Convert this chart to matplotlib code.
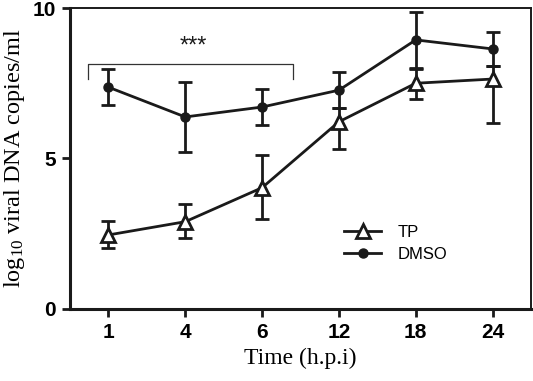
import matplotlib
matplotlib.use("Agg")
import matplotlib.pyplot as plt
from matplotlib.lines import Line2D
import numpy as np

plt.rcParams["mathtext.fontset"] = "custom"
plt.rcParams["mathtext.rm"] = "Liberation Serif"
plt.rcParams["mathtext.it"] = "Liberation Serif:italic"

# Data
time_labels = ["1", "4", "6", "12", "18", "24"]
dmso_mean = [7.37, 6.38, 6.71, 7.27, 8.94, 8.64]
dmso_err = [0.6, 1.15, 0.6, 0.6, 0.93, 0.57]
tp_mean = [2.46, 2.90, 4.03, 6.22, 7.50, 7.64]
tp_err_low = [0.45, 0.53, 1.03, 0.92, 0.52, 1.46]
tp_err_high = [0.47, 0.58, 1.07, 0.46, 0.47, 0.43]
y_ticks = [0, 5, 10]

col = "#1a1a1a"
fig = plt.figure(figsize=(5.33, 3.81), dpi=100)
ax = fig.add_axes([0.1313, 0.189, 0.865, 0.79])

x = np.arange(len(time_labels))

lw = 2.0
ax.errorbar(x, dmso_mean, yerr=dmso_err, color=col, lw=lw, marker="o", ms=6.5,
            mfc=col, mec=col, capsize=4.8, capthick=lw, elinewidth=lw, zorder=3)
ax.errorbar(x, tp_mean, yerr=[tp_err_low, tp_err_high], color=col, lw=lw, marker="^",
            ms=10, mfc="white", mec=col, mew=2.0, capsize=4.8, capthick=lw,
            elinewidth=lw, zorder=4)

# significance bracket
bx0, bx1, by, bdrop = -0.26, 2.4, 8.14, 0.5
ax.plot([bx0, bx0, bx1, bx1], [by - bdrop, by, by, by - bdrop], color="#333333", lw=0.9)
ax.text(1.1, by + 0.2, "***", ha="center", va="bottom", fontsize=17,
        family="Liberation Sans", color=col)

ax.set_xlim(-0.5, 5.5)
ax.set_ylim(0, 10)
ax.set_xticks(x)
ax.set_xticklabels(time_labels)
ax.set_yticks(y_ticks)
for lab in ax.get_xticklabels() + ax.get_yticklabels():
    lab.set_family("Liberation Sans")
    lab.set_fontweight("bold")
    lab.set_fontsize(15)
ax.tick_params(axis="both", direction="out", length=6, width=2, color=col, pad=4)

for s in ["left", "bottom"]:
    ax.spines[s].set_linewidth(2.2)
for s in ["top", "right"]:
    ax.spines[s].set_linewidth(1.4)
for s in ax.spines.values():
    s.set_color(col)

ax.set_xlabel("Time (h.p.i)", family="Liberation Serif", fontsize=17, labelpad=4)
ax.set_ylabel(r"log$_{10}$ viral DNA copies/ml", family="Liberation Serif", fontsize=17.5,
              labelpad=4)

handles = [Line2D([], [], color=col, lw=lw, marker="^", ms=10, mfc="white", mec=col, mew=2.0),
           Line2D([], [], color=col, lw=lw, marker="o", ms=6.5, mfc=col, mec=col)]
ax.legend(handles, ["TP", "DMSO"], loc="center left", bbox_to_anchor=(0.595, 0.218),
          frameon=False, prop={"family": "Liberation Sans", "size": 12},
          handlelength=2.2, handletextpad=1.0, labelspacing=0.45, borderpad=0,
          borderaxespad=0)

fig.savefig("out.png", dpi=100)
